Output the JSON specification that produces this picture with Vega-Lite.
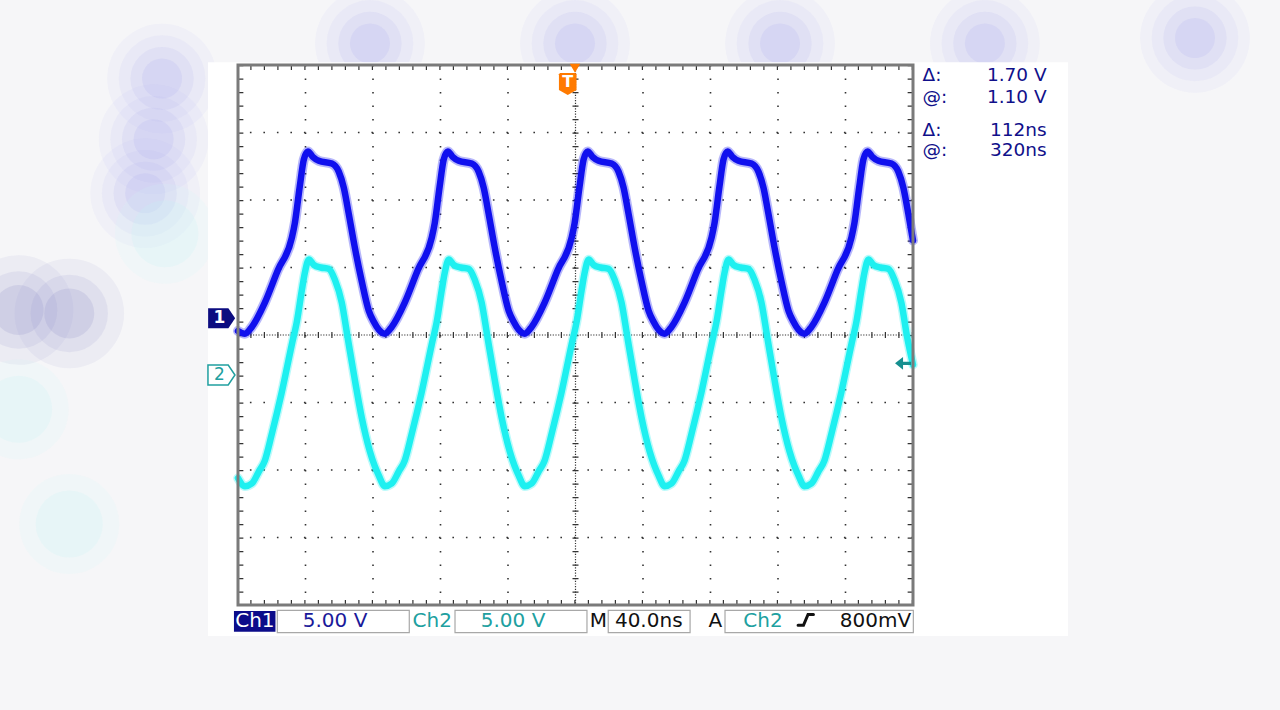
{
"$schema": "https://vega.github.io/schema/vega-lite/v6.json",
"width": 675, "height": 540,
"autosize": "none",
"padding": {"left": 238, "top": 65, "right": 367, "bottom": 105},
"background": "#f6f6f8",
"config": {"view": {"stroke": null}},
"datasets": {
"ch1": [
{"t":-200,"v":0.3},
{"t":-195.9,"v":0.1},{"t":-191.8,"v":0.6},{"t":-184.1,"v":2.4},{"t":-176.4,"v":4.8},{"t":-168.1,"v":7.2},{"t":-166.3,"v":8.3},{"t":-163.4,"v":11.0},{"t":-161.0,"v":13.0},{"t":-158.6,"v":13.6},{"t":-155.7,"v":13.2},{"t":-152.1,"v":12.9},{"t":-144.4,"v":12.7},{"t":-140.3,"v":12.1},{"t":-137.3,"v":10.9},{"t":-134.4,"v":9.0},{"t":-130.8,"v":6.5},{"t":-126.7,"v":4.0},{"t":-122.5,"v":1.8},{"t":-119.6,"v":1.0},{"t":-116.6,"v":0.4},
{"t":-113.0,"v":0.1},{"t":-108.9,"v":0.6},{"t":-101.2,"v":2.4},{"t":-93.5,"v":4.8},{"t":-85.2,"v":7.2},{"t":-83.4,"v":8.3},{"t":-80.5,"v":11.0},{"t":-78.1,"v":13.0},{"t":-75.7,"v":13.6},{"t":-72.8,"v":13.2},{"t":-69.2,"v":12.9},{"t":-61.5,"v":12.7},{"t":-57.4,"v":12.1},{"t":-54.4,"v":10.9},{"t":-51.5,"v":9.0},{"t":-47.9,"v":6.5},{"t":-43.8,"v":4.0},{"t":-39.6,"v":1.8},{"t":-36.7,"v":1.0},{"t":-33.7,"v":0.4},
{"t":-30.1,"v":0.1},{"t":-26.0,"v":0.6},{"t":-18.3,"v":2.4},{"t":-10.6,"v":4.8},{"t":-2.3,"v":7.2},{"t":-0.5,"v":8.3},{"t":2.4,"v":11.0},{"t":4.8,"v":13.0},{"t":7.2,"v":13.6},{"t":10.1,"v":13.2},{"t":13.7,"v":12.9},{"t":21.4,"v":12.7},{"t":25.5,"v":12.1},{"t":28.5,"v":10.9},{"t":31.4,"v":9.0},{"t":35.0,"v":6.5},{"t":39.1,"v":4.0},{"t":43.3,"v":1.8},{"t":46.2,"v":1.0},{"t":49.2,"v":0.4},
{"t":52.8,"v":0.1},{"t":56.9,"v":0.6},{"t":64.6,"v":2.4},{"t":72.3,"v":4.8},{"t":80.6,"v":7.2},{"t":82.4,"v":8.3},{"t":85.3,"v":11.0},{"t":87.7,"v":13.0},{"t":90.1,"v":13.6},{"t":93.0,"v":13.2},{"t":96.6,"v":12.9},{"t":104.3,"v":12.7},{"t":108.4,"v":12.1},{"t":111.4,"v":10.9},{"t":114.3,"v":9.0},{"t":117.9,"v":6.5},{"t":122.0,"v":4.0},{"t":126.2,"v":1.8},{"t":129.1,"v":1.0},{"t":132.1,"v":0.4},
{"t":135.7,"v":0.1},{"t":139.8,"v":0.6},{"t":147.5,"v":2.4},{"t":155.2,"v":4.8},{"t":163.5,"v":7.2},{"t":165.3,"v":8.3},{"t":168.2,"v":11.0},{"t":170.6,"v":13.0},{"t":173.0,"v":13.6},{"t":175.9,"v":13.2},{"t":179.5,"v":12.9},{"t":187.2,"v":12.7},{"t":191.3,"v":12.1},{"t":194.3,"v":10.9},{"t":197.2,"v":9.0},{"t":200,"v":7.0}
],
"ch2": [
{"t":-200,"v":-10.6},
{"t":-195.9,"v":-11.2},{"t":-191.8,"v":-11.0},{"t":-187.6,"v":-10.1},{"t":-184.1,"v":-9.3},{"t":-179.9,"v":-7.3},{"t":-174.0,"v":-4.2},{"t":-168.1,"v":-0.7},{"t":-165.1,"v":1.0},{"t":-162.2,"v":3.3},{"t":-160.4,"v":4.6},{"t":-158.0,"v":5.6},{"t":-155.1,"v":5.2},{"t":-150.9,"v":5.0},{"t":-146.2,"v":4.9},{"t":-142.6,"v":4.1},{"t":-138.5,"v":2.4},{"t":-135.0,"v":-0.2},{"t":-130.8,"v":-3.3},{"t":-126.7,"v":-6.1},{"t":-121.9,"v":-8.6},{"t":-119.0,"v":-9.7},{"t":-116.6,"v":-10.4},
{"t":-113.0,"v":-11.2},{"t":-108.9,"v":-11.0},{"t":-104.7,"v":-10.1},{"t":-101.2,"v":-9.3},{"t":-97.0,"v":-7.3},{"t":-91.1,"v":-4.2},{"t":-85.2,"v":-0.7},{"t":-82.2,"v":1.0},{"t":-79.3,"v":3.3},{"t":-77.5,"v":4.6},{"t":-75.1,"v":5.6},{"t":-72.2,"v":5.2},{"t":-68.0,"v":5.0},{"t":-63.3,"v":4.9},{"t":-59.7,"v":4.1},{"t":-55.6,"v":2.4},{"t":-52.1,"v":-0.2},{"t":-47.9,"v":-3.3},{"t":-43.8,"v":-6.1},{"t":-39.0,"v":-8.6},{"t":-36.1,"v":-9.7},{"t":-33.7,"v":-10.4},
{"t":-30.1,"v":-11.2},{"t":-26.0,"v":-11.0},{"t":-21.8,"v":-10.1},{"t":-18.3,"v":-9.3},{"t":-14.1,"v":-7.3},{"t":-8.2,"v":-4.2},{"t":-2.3,"v":-0.7},{"t":0.7,"v":1.0},{"t":3.6,"v":3.3},{"t":5.4,"v":4.6},{"t":7.8,"v":5.6},{"t":10.7,"v":5.2},{"t":14.9,"v":5.0},{"t":19.6,"v":4.9},{"t":23.2,"v":4.1},{"t":27.3,"v":2.4},{"t":30.8,"v":-0.2},{"t":35.0,"v":-3.3},{"t":39.1,"v":-6.1},{"t":43.9,"v":-8.6},{"t":46.8,"v":-9.7},{"t":49.2,"v":-10.4},
{"t":52.8,"v":-11.2},{"t":56.9,"v":-11.0},{"t":61.1,"v":-10.1},{"t":64.6,"v":-9.3},{"t":68.8,"v":-7.3},{"t":74.7,"v":-4.2},{"t":80.6,"v":-0.7},{"t":83.6,"v":1.0},{"t":86.5,"v":3.3},{"t":88.3,"v":4.6},{"t":90.7,"v":5.6},{"t":93.6,"v":5.2},{"t":97.8,"v":5.0},{"t":102.5,"v":4.9},{"t":106.1,"v":4.1},{"t":110.2,"v":2.4},{"t":113.7,"v":-0.2},{"t":117.9,"v":-3.3},{"t":122.0,"v":-6.1},{"t":126.8,"v":-8.6},{"t":129.7,"v":-9.7},{"t":132.1,"v":-10.4},
{"t":135.7,"v":-11.2},{"t":139.8,"v":-11.0},{"t":144.0,"v":-10.1},{"t":147.5,"v":-9.3},{"t":151.7,"v":-7.3},{"t":157.6,"v":-4.2},{"t":163.5,"v":-0.7},{"t":166.5,"v":1.0},{"t":169.4,"v":3.3},{"t":171.2,"v":4.6},{"t":173.6,"v":5.6},{"t":176.5,"v":5.2},{"t":180.7,"v":5.0},{"t":185.4,"v":4.9},{"t":189.0,"v":4.1},{"t":193.1,"v":2.4},{"t":196.6,"v":-0.2},{"t":200,"v":-2.2}
],
"gridT": [{"t":-160},{"t":-120},{"t":-80},{"t":-40},{"t":40},{"t":80},{"t":120},{"t":160}],
"gridV": [{"v":-15},{"v":-10},{"v":-5},{"v":5},{"v":10},{"v":15}],
"blobL": [{"t":-121.8,"v":21.6},{"t":-0.3,"v":21.6},{"t":121.2,"v":21.6},{"t":242.6,"v":21.6},{"t":367.1,"v":22.0},{"t":-245.0,"v":19.0},{"t":-250.0,"v":14.5},{"t":-255.0,"v":10.5}],
"blobB": [{"t":-330.0,"v":1.85},{"t":-300.0,"v":1.6}],
"blobC": [{"t":-243.3,"v":7.5},{"t":-300.0,"v":-14.0},{"t":-330.0,"v":-5.5}]
},
"layer": [
{"data":{"name":"blobL"},"mark":{"type":"point","shape":"circle","filled":true,"size":12000,"color":"#c8c8f4","opacity":0.12},
 "encoding":{"x":{"field":"t","type":"quantitative","scale":{"domain":[-200,200],"nice":false,"zero":false},"axis":null},"y":{"field":"v","type":"quantitative","scale":{"domain":[-20,20],"nice":false,"zero":false},"axis":null}}},
{"data":{"name":"blobL"},"mark":{"type":"point","shape":"circle","filled":true,"size":7500,"color":"#c0c0f2","opacity":0.15},
 "encoding":{"x":{"field":"t","type":"quantitative","scale":{"domain":[-200,200],"nice":false,"zero":false},"axis":null},"y":{"field":"v","type":"quantitative","scale":{"domain":[-20,20],"nice":false,"zero":false},"axis":null}}},
{"data":{"name":"blobL"},"mark":{"type":"point","shape":"circle","filled":true,"size":4000,"color":"#b8b8f0","opacity":0.18},
 "encoding":{"x":{"field":"t","type":"quantitative","scale":{"domain":[-200,200],"nice":false,"zero":false},"axis":null},"y":{"field":"v","type":"quantitative","scale":{"domain":[-20,20],"nice":false,"zero":false},"axis":null}}},
{"data":{"name":"blobL"},"mark":{"type":"point","shape":"circle","filled":true,"size":1600,"color":"#b0b0ee","opacity":0.2},
 "encoding":{"x":{"field":"t","type":"quantitative","scale":{"domain":[-200,200],"nice":false,"zero":false},"axis":null},"y":{"field":"v","type":"quantitative","scale":{"domain":[-20,20],"nice":false,"zero":false},"axis":null}}},
{"data":{"name":"blobB"},"mark":{"type":"point","shape":"circle","filled":true,"size":12000,"color":"#a8a8d8","opacity":0.12},
 "encoding":{"x":{"field":"t","type":"quantitative","scale":{"domain":[-200,200],"nice":false,"zero":false},"axis":null},"y":{"field":"v","type":"quantitative","scale":{"domain":[-20,20],"nice":false,"zero":false},"axis":null}}},
{"data":{"name":"blobB"},"mark":{"type":"point","shape":"circle","filled":true,"size":6000,"color":"#9c9cd0","opacity":0.15},
 "encoding":{"x":{"field":"t","type":"quantitative","scale":{"domain":[-200,200],"nice":false,"zero":false},"axis":null},"y":{"field":"v","type":"quantitative","scale":{"domain":[-20,20],"nice":false,"zero":false},"axis":null}}},
{"data":{"name":"blobB"},"mark":{"type":"point","shape":"circle","filled":true,"size":2500,"color":"#9090c8","opacity":0.2},
 "encoding":{"x":{"field":"t","type":"quantitative","scale":{"domain":[-200,200],"nice":false,"zero":false},"axis":null},"y":{"field":"v","type":"quantitative","scale":{"domain":[-20,20],"nice":false,"zero":false},"axis":null}}},
{"data":{"name":"blobC"},"mark":{"type":"point","shape":"circle","filled":true,"size":10000,"color":"#d0f6f6","opacity":0.15},
 "encoding":{"x":{"field":"t","type":"quantitative","scale":{"domain":[-200,200],"nice":false,"zero":false},"axis":null},"y":{"field":"v","type":"quantitative","scale":{"domain":[-20,20],"nice":false,"zero":false},"axis":null}}},
{"data":{"name":"blobC"},"mark":{"type":"point","shape":"circle","filled":true,"size":4500,"color":"#c4f4f4","opacity":0.2},
 "encoding":{"x":{"field":"t","type":"quantitative","scale":{"domain":[-200,200],"nice":false,"zero":false},"axis":null},"y":{"field":"v","type":"quantitative","scale":{"domain":[-20,20],"nice":false,"zero":false},"axis":null}}},
{"data":{"values":[{}]},"mark":{"type":"rect","color":"white"},
 "encoding":{"x":{"datum":-217.8,"type":"quantitative","scale":{"domain":[-200,200],"nice":false,"zero":false},"axis":null},"x2":{"datum":291.9},"y":{"datum":20.2,"type":"quantitative","scale":{"domain":[-20,20],"nice":false,"zero":false},"axis":null},"y2":{"datum":-22.3}}},
{"data":{"name":"gridT"},"mark":{"type":"rule","color":"#333333","strokeWidth":1.6,"strokeDash":[1.6,11.9]},
 "encoding":{"x":{"field":"t","type":"quantitative","scale":{"domain":[-200,200],"nice":false,"zero":false},"axis":null}}},
{"data":{"name":"gridV"},"mark":{"type":"rule","color":"#333333","strokeWidth":1.6,"strokeDash":[1.6,11.9]},
 "encoding":{"y":{"field":"v","type":"quantitative","scale":{"domain":[-20,20],"nice":false,"zero":false},"axis":null}}},
{"data":{"values":[{"t":0}]},"mark":{"type":"rule","color":"#333333","strokeWidth":1.2,"strokeDash":[1.2,1.5]},
 "encoding":{"x":{"field":"t","type":"quantitative","scale":{"domain":[-200,200],"nice":false,"zero":false},"axis":null}}},
{"data":{"values":[{"v":0}]},"mark":{"type":"rule","color":"#333333","strokeWidth":1.2,"strokeDash":[1.2,1.5]},
 "encoding":{"y":{"field":"v","type":"quantitative","scale":{"domain":[-20,20],"nice":false,"zero":false},"axis":null}}},
{"data":{"values":[{"t":0},{"t":-198.6},{"t":198.6}]},"mark":{"type":"rule","color":"#333333","strokeWidth":6,"strokeDash":[1.2,12.3]},
 "encoding":{"x":{"field":"t","type":"quantitative","scale":{"domain":[-200,200],"nice":false,"zero":false},"axis":null}}},
{"data":{"values":[{"v":0},{"v":-19.85},{"v":19.85}]},"mark":{"type":"rule","color":"#333333","strokeWidth":6,"strokeDash":[1.2,12.3]},
 "encoding":{"y":{"field":"v","type":"quantitative","scale":{"domain":[-20,20],"nice":false,"zero":false},"axis":null}}},
{"data":{"name":"ch2"},"mark":{"type":"line","interpolate":"monotone","color":"#1ef0f0","strokeWidth":9.5,"opacity":0.3,"strokeJoin":"round","strokeCap":"round"},
 "encoding":{"x":{"field":"t","type":"quantitative","scale":{"domain":[-200,200],"nice":false,"zero":false},"axis":null},"y":{"field":"v","type":"quantitative","scale":{"domain":[-20,20],"nice":false,"zero":false},"axis":null}}},
{"data":{"name":"ch2"},"mark":{"type":"line","interpolate":"monotone","color":"#1ef0f0","strokeWidth":6.5,"strokeJoin":"round","strokeCap":"round"},
 "encoding":{"x":{"field":"t","type":"quantitative","scale":{"domain":[-200,200],"nice":false,"zero":false},"axis":null},"y":{"field":"v","type":"quantitative","scale":{"domain":[-20,20],"nice":false,"zero":false},"axis":null}}},
{"data":{"name":"ch1"},"mark":{"type":"line","interpolate":"monotone","color":"#1010ee","strokeWidth":10,"opacity":0.3,"strokeJoin":"round","strokeCap":"round"},
 "encoding":{"x":{"field":"t","type":"quantitative","scale":{"domain":[-200,200],"nice":false,"zero":false},"axis":null},"y":{"field":"v","type":"quantitative","scale":{"domain":[-20,20],"nice":false,"zero":false},"axis":null}}},
{"data":{"name":"ch1"},"mark":{"type":"line","interpolate":"monotone","color":"#1010ee","strokeWidth":6.5,"strokeJoin":"round","strokeCap":"round"},
 "encoding":{"x":{"field":"t","type":"quantitative","scale":{"domain":[-200,200],"nice":false,"zero":false},"axis":null},"y":{"field":"v","type":"quantitative","scale":{"domain":[-20,20],"nice":false,"zero":false},"axis":null}}},
{"data":{"values":[{}]},"mark":{"type":"rect","filled":false,"stroke":"#7a7a7a","strokeWidth":3},
 "encoding":{"x":{"datum":-200,"type":"quantitative","scale":{"domain":[-200,200],"nice":false,"zero":false},"axis":null},"x2":{"datum":200},"y":{"datum":20,"type":"quantitative","scale":{"domain":[-20,20],"nice":false,"zero":false},"axis":null},"y2":{"datum":-20}}},
{"data":{"values":[{"t":-209.7,"v":1.24}]},"mark":{"type":"point","shape":"M-1,-0.74L0.5,-0.74L1,0L0.5,0.74L-1,0.74Z","size":729,"filled":true,"color":"#0c0c80","opacity":1},
 "encoding":{"x":{"field":"t","type":"quantitative","scale":{"domain":[-200,200],"nice":false,"zero":false},"axis":null},"y":{"field":"v","type":"quantitative","scale":{"domain":[-20,20],"nice":false,"zero":false},"axis":null}}},
{"data":{"values":[{"t":-209.8,"v":-2.96}]},"mark":{"type":"point","shape":"M-1,-0.74L0.5,-0.74L1,0L0.5,0.74L-1,0.74Z","size":729,"filled":false,"stroke":"#20a0a0","fill":"white","strokeWidth":1.5,"opacity":1},
 "encoding":{"x":{"field":"t","type":"quantitative","scale":{"domain":[-200,200],"nice":false,"zero":false},"axis":null},"y":{"field":"v","type":"quantitative","scale":{"domain":[-20,20],"nice":false,"zero":false},"axis":null}}},
{"data":{"values":[{"t":194.1,"v":-2.1}]},"mark":{"type":"point","shape":"M-1,0L0,-0.8L0,-0.2L1,-0.2L1,0.2L0,0.2L0,0.8Z","size":256,"filled":true,"color":"#158f8f","opacity":1},
 "encoding":{"x":{"field":"t","type":"quantitative","scale":{"domain":[-200,200],"nice":false,"zero":false},"axis":null},"y":{"field":"v","type":"quantitative","scale":{"domain":[-20,20],"nice":false,"zero":false},"axis":null}}},
{"data":{"values":[{"t":-0.3,"v":19.76}]},"mark":{"type":"point","shape":"triangle-down","size":110,"filled":true,"color":"#ff7a00","opacity":1},
 "encoding":{"x":{"field":"t","type":"quantitative","scale":{"domain":[-200,200],"nice":false,"zero":false},"axis":null},"y":{"field":"v","type":"quantitative","scale":{"domain":[-20,20],"nice":false,"zero":false},"axis":null}}},
{"data":{"values":[{"t":-4.6,"v":18.6}]},"mark":{"type":"point","shape":"M-0.7,-1L0.7,-1L0.8,-0.88L0.8,0.55L0,1L-0.8,0.55L-0.8,-0.88Z","size":484,"filled":true,"color":"#ff7a00","opacity":1},
 "encoding":{"x":{"field":"t","type":"quantitative","scale":{"domain":[-200,200],"nice":false,"zero":false},"axis":null},"y":{"field":"v","type":"quantitative","scale":{"domain":[-20,20],"nice":false,"zero":false},"axis":null}}},
{"data":{"values":[{"t":-4.6,"v":18.75,"label":"T"}]},"mark":{"type":"text","font":"DejaVu Sans","fontSize":16,"fontWeight":"bold","color":"white","align":"center","baseline":"middle"},
 "encoding":{"x":{"field":"t","type":"quantitative","scale":{"domain":[-200,200],"nice":false,"zero":false},"axis":null},"y":{"field":"v","type":"quantitative","scale":{"domain":[-20,20],"nice":false,"zero":false},"axis":null},"text":{"field":"label"}}},
{"data":{"values":[{"t":-211.0,"v":1.24,"label":"1"}]},"mark":{"type":"text","font":"DejaVu Sans","fontSize":17,"fontWeight":"bold","color":"white","align":"center","baseline":"middle"},
 "encoding":{"x":{"field":"t","type":"quantitative","scale":{"domain":[-200,200],"nice":false,"zero":false},"axis":null},"y":{"field":"v","type":"quantitative","scale":{"domain":[-20,20],"nice":false,"zero":false},"axis":null},"text":{"field":"label"}}},
{"data":{"values":[{"t":-211.0,"v":-2.96,"label":"2"}]},"mark":{"type":"text","font":"DejaVu Sans","fontSize":17,"color":"#20a0a0","align":"center","baseline":"middle"},
 "encoding":{"x":{"field":"t","type":"quantitative","scale":{"domain":[-200,200],"nice":false,"zero":false},"axis":null},"y":{"field":"v","type":"quantitative","scale":{"domain":[-20,20],"nice":false,"zero":false},"axis":null},"text":{"field":"label"}}},
{"data":{"values":[{"t1":-176.7,"t2":-98.5},{"t1":-71.4,"t2":6.8},{"t1":19.4,"t2":67.9},{"t1":88.6,"t2":200.2}]},"mark":{"type":"rect","color":"white","stroke":"#a8a8a8","strokeWidth":1.2},
 "encoding":{"x":{"field":"t1","type":"quantitative","scale":{"domain":[-200,200],"nice":false,"zero":false},"axis":null},"x2":{"field":"t2"},"y":{"datum":-20.4,"type":"quantitative","scale":{"domain":[-20,20],"nice":false,"zero":false},"axis":null},"y2":{"datum":-22.05}}},
{"data":{"values":[{"t1":-202.4,"t2":-177.8}]},"mark":{"type":"rect","color":"#0c0c8a"},
 "encoding":{"x":{"field":"t1","type":"quantitative","scale":{"domain":[-200,200],"nice":false,"zero":false},"axis":null},"x2":{"field":"t2"},"y":{"datum":-20.45,"type":"quantitative","scale":{"domain":[-20,20],"nice":false,"zero":false},"axis":null},"y2":{"datum":-21.98}}},
{"data":{"values":[{"t":131.9,"v":-21.5},{"t":135.1,"v":-21.5},{"t":137.8,"v":-20.7},{"t":141.0,"v":-20.7}]},"mark":{"type":"line","color":"#111111","strokeWidth":3,"strokeCap":"round"},
 "encoding":{"x":{"field":"t","type":"quantitative","scale":{"domain":[-200,200],"nice":false,"zero":false},"axis":null},"y":{"field":"v","type":"quantitative","scale":{"domain":[-20,20],"nice":false,"zero":false},"axis":null}}},
{"data":{"values":[{"t":-190.0,"v":-21.2,"label":"Ch1"}]},"mark":{"type":"text","font":"DejaVu Sans","fontSize":20,"color":"white","align":"center","baseline":"middle"},
 "encoding":{"x":{"field":"t","type":"quantitative","scale":{"domain":[-200,200],"nice":false,"zero":false},"axis":null},"y":{"field":"v","type":"quantitative","scale":{"domain":[-20,20],"nice":false,"zero":false},"axis":null},"text":{"field":"label"}}},
{"data":{"values":[{"t":-142.5,"v":-21.2,"label":"5.00 V"}]},"mark":{"type":"text","font":"DejaVu Sans","fontSize":20,"color":"#1a1a9a","align":"center","baseline":"middle"},
 "encoding":{"x":{"field":"t","type":"quantitative","scale":{"domain":[-200,200],"nice":false,"zero":false},"axis":null},"y":{"field":"v","type":"quantitative","scale":{"domain":[-20,20],"nice":false,"zero":false},"axis":null},"text":{"field":"label"}}},
{"data":{"values":[{"t":-84.9,"v":-21.2,"label":"Ch2"},{"t":-37.0,"v":-21.2,"label":"5.00 V"},{"t":111.1,"v":-21.2,"label":"Ch2"}]},"mark":{"type":"text","font":"DejaVu Sans","fontSize":20,"color":"#20a0a0","align":"center","baseline":"middle"},
 "encoding":{"x":{"field":"t","type":"quantitative","scale":{"domain":[-200,200],"nice":false,"zero":false},"axis":null},"y":{"field":"v","type":"quantitative","scale":{"domain":[-20,20],"nice":false,"zero":false},"axis":null},"text":{"field":"label"}}},
{"data":{"values":[{"t":13.5,"v":-21.2,"label":"M"},{"t":43.4,"v":-21.2,"label":"40.0ns"},{"t":82.8,"v":-21.2,"label":"A"},{"t":177.8,"v":-21.2,"label":"800mV"}]},"mark":{"type":"text","font":"DejaVu Sans","fontSize":20,"color":"#111111","align":"center","baseline":"middle"},
 "encoding":{"x":{"field":"t","type":"quantitative","scale":{"domain":[-200,200],"nice":false,"zero":false},"axis":null},"y":{"field":"v","type":"quantitative","scale":{"domain":[-20,20],"nice":false,"zero":false},"axis":null},"text":{"field":"label"}}},
{"data":{"values":[{"t":205.7,"v":19.26,"label":"Δ:"},{"t":205.7,"v":17.6,"label":"@:"},{"t":205.7,"v":15.2,"label":"Δ:"},{"t":205.7,"v":13.7,"label":"@:"}]},"mark":{"type":"text","font":"DejaVu Sans","fontSize":18.5,"color":"#10108a","align":"left","baseline":"middle"},
 "encoding":{"x":{"field":"t","type":"quantitative","scale":{"domain":[-200,200],"nice":false,"zero":false},"axis":null},"y":{"field":"v","type":"quantitative","scale":{"domain":[-20,20],"nice":false,"zero":false},"axis":null},"text":{"field":"label"}}},
{"data":{"values":[{"t":279.2,"v":19.26,"label":"1.70 V"},{"t":279.2,"v":17.6,"label":"1.10 V"},{"t":279.2,"v":15.2,"label":"112ns"},{"t":279.2,"v":13.7,"label":"320ns"}]},"mark":{"type":"text","font":"DejaVu Sans","fontSize":18.5,"color":"#10108a","align":"right","baseline":"middle"},
 "encoding":{"x":{"field":"t","type":"quantitative","scale":{"domain":[-200,200],"nice":false,"zero":false},"axis":null},"y":{"field":"v","type":"quantitative","scale":{"domain":[-20,20],"nice":false,"zero":false},"axis":null},"text":{"field":"label"}}}
]
}
